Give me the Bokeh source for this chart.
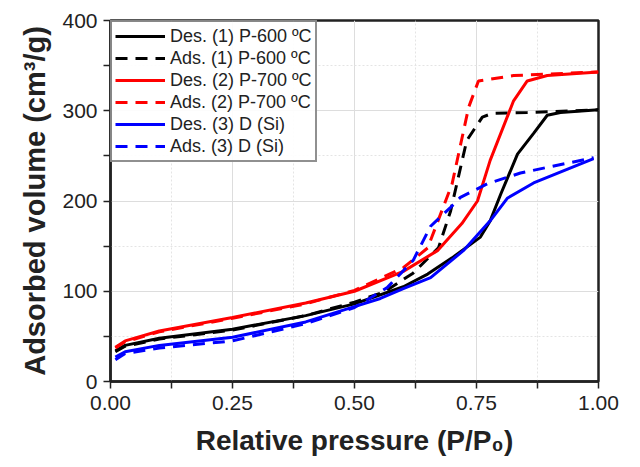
from bokeh.plotting import figure
from bokeh.models import Range1d, FixedTicker, Legend, LegendItem
from bokeh.embed import file_html
from bokeh.resources import INLINE

# Des. (1) P-600
x_des1 = [0.01, 0.03, 0.1, 0.25, 0.4, 0.5, 0.6, 0.65, 0.7, 0.758, 0.778, 0.80, 0.834, 0.867, 0.895, 0.922, 1.0]
y_des1 = [34, 40, 48, 58, 73, 86, 105, 119, 137, 160, 178, 208, 252, 275, 295, 298, 301]
# Ads. (1) P-600
x_ads1 = [0.01, 0.03, 0.1, 0.25, 0.4, 0.5, 0.56, 0.62, 0.672, 0.697, 0.73, 0.762, 0.782, 0.854, 1.0]
y_ads1 = [33, 39, 47, 57, 73, 88, 99, 120, 148, 189, 267, 293, 297, 298, 301]
# Des. (2) P-700
x_des2 = [0.01, 0.03, 0.1, 0.25, 0.4, 0.5, 0.6, 0.67, 0.72, 0.752, 0.778, 0.826, 0.854, 0.895, 1.0]
y_des2 = [38, 45, 56, 71, 87, 100, 122, 145, 175, 200, 245, 311, 333, 339, 343]
# Ads. (2) P-700
x_ads2 = [0.01, 0.03, 0.1, 0.25, 0.4, 0.5, 0.6, 0.65, 0.70, 0.734, 0.754, 0.826, 1.0]
y_ads2 = [37, 44, 55, 70, 86, 101, 126, 148, 219, 304, 333, 339, 343]
# Des. (3) D (Si)
x_des3 = [0.01, 0.03, 0.1, 0.25, 0.4, 0.5, 0.553, 0.6, 0.656, 0.723, 0.778, 0.813, 0.867, 0.99]
y_des3 = [27, 33, 40, 49, 66, 83, 92, 103, 115, 145, 178, 203, 220, 247]
# Ads. (3) D (Si)
x_ads3 = [0.01, 0.03, 0.1, 0.25, 0.4, 0.5, 0.567, 0.62, 0.656, 0.697, 0.717, 0.772, 0.84, 0.99]
y_ads3 = [24, 31, 37, 45, 64, 82, 104, 134, 172, 193, 204, 219, 231, 248]

labels = ["Des. (1) P-600 ºC", "Ads. (1) P-600 ºC", "Des. (2) P-700 ºC",
          "Ads. (2) P-700 ºC", "Des. (3) D (Si)", "Ads. (3) D (Si)"]
colors = ["black", "black", "#ff0000", "#ff0000", "#0000ff", "#0000ff"]
dashes = ["solid", "12 8", "solid", "12 8", "solid", "12 8"]

x_ticks = [0.0, 0.25, 0.5, 0.75, 1.0]
y_ticks = [0, 100, 200, 300, 400]

p = figure(width=632, height=459, output_backend="svg", toolbar_location=None,
           x_range=Range1d(0, 1.0), y_range=Range1d(0, 400),
           min_border_left=110, min_border_right=34, min_border_top=20, min_border_bottom=78)

xs = [x_des1, x_ads1, x_des2, x_ads2, x_des3, x_ads3]
ys = [y_des1, y_ads1, y_des2, y_ads2, y_des3, y_ads3]
renderers = []
for xv, yv, c, d in zip(xs, ys, colors, dashes):
    r = p.line(xv, yv, line_color=c, line_width=3, line_dash=d)
    renderers.append(r)

p.xaxis.ticker = FixedTicker(ticks=x_ticks, minor_ticks=[0.125, 0.375, 0.625, 0.875])
p.yaxis.ticker = FixedTicker(ticks=y_ticks, minor_ticks=[50, 150, 250, 350])
p.xaxis.major_label_overrides = {0.0: "0.00", 0.25: "0.25", 0.5: "0.50", 0.75: "0.75", 1.0: "1.00"}

for ax in (p.xaxis[0], p.yaxis[0]):
    ax.axis_line_width = 2.5
    ax.axis_line_color = "#222222"
    ax.major_tick_line_width = 1.5
    ax.minor_tick_line_width = 1.5
    ax.major_tick_line_color = "#222222"
    ax.minor_tick_line_color = "#222222"
    ax.major_tick_out = 7
    ax.major_tick_in = 0
    ax.minor_tick_out = 7
    ax.minor_tick_in = 0
    ax.major_label_text_font = "Liberation Sans"
    ax.major_label_text_font_size = "21px"
    ax.major_label_text_color = "#222222"
    ax.axis_label_text_font = "Liberation Sans"
    ax.axis_label_text_font_style = "bold"
    ax.axis_label_text_color = "#222222"

p.xaxis.axis_label_text_font_size = "28px"
p.yaxis.axis_label_text_font_size = "29px"
p.xaxis.axis_label = "Relative pressure (P/P₀)"
p.yaxis.axis_label = "Adsorbed volume (cm³/g)"
p.xaxis.major_label_standoff = 7
p.yaxis.major_label_standoff = 6
p.xaxis.axis_label_standoff = 12
p.yaxis.axis_label_standoff = 8

p.xgrid.grid_line_color = "#dddddd"
p.ygrid.grid_line_color = "#dddddd"
p.xgrid.minor_grid_line_color = "#e4e4e4"
p.ygrid.minor_grid_line_color = "#e4e4e4"
p.xgrid.minor_grid_line_dash = "2 2"
p.ygrid.minor_grid_line_dash = "2 2"

p.outline_line_color = "#222222"
p.outline_line_width = 2.5
p.background_fill_color = "white"
p.border_fill_color = "white"

items = [LegendItem(label=l, renderers=[r]) for l, r in zip(labels, renderers)]
legend = Legend(items=items, location="top_left")
legend.margin = 0
legend.padding = 3
legend.spacing = 0
legend.label_height = 22
legend.glyph_height = 22
legend.glyph_width = 50
legend.label_text_font = "Liberation Sans"
legend.label_text_font_size = "18px"
legend.label_text_color = "#222222"
legend.border_line_color = "#222222"
legend.border_line_width = 2
legend.background_fill_color = "white"
legend.background_fill_alpha = 0.9
p.add_layout(legend)

open("out.html", "w").write(file_html(p, INLINE))
